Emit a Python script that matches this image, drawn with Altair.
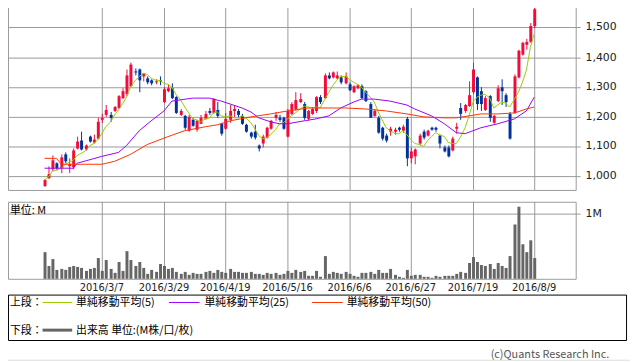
import altair as alt
import pandas as pd

# ---------------- data ----------------
opens = [968, 994, 1025, 1043, 1027, 1073, 1035, 1030, 1094, 1120,
         1090, 1132, 1112, 1128, 1189, 1207, 1205, 1218, 1228, 1263,
         1275, 1303, 1352, 1358, 1337, 1329, 1322, 1315, 1322, 1250,
         1287, 1296, 1266, 1207, 1203, 1153, 1191, 1156, 1178, 1193,
         1220, 1213, 1224, 1176, 1160, 1189, 1218, 1220, 1203, 1173,
         1148, 1150, 1103, 1109, 1131, 1159, 1196, 1195, 1196, 1133,
         1209, 1226, 1248, 1244, 1192, 1209, 1218, 1267, 1264, 1340,
         1333, 1330, 1333, 1311, 1309, 1284, 1296, 1303, 1287, 1243,
         1203, 1198, 1164, 1137, 1150, 1150, 1163, 1153, 1192, 1059,
         1067, 1111, 1150, 1137, 1162, 1162, 1137, 1098, 1098, 1087,
         1160, 1228, 1218, 1237, 1281, 1333, 1287, 1222, 1270, 1181,
         1253, 1300, 1273, 1211, 1214, 1331, 1409, 1442, 1451, 1503]
highs = [990, 1035, 1072, 1048, 1075, 1080, 1062, 1093, 1133, 1150,
         1108, 1137, 1140, 1195, 1210, 1240, 1217, 1236, 1272, 1295,
         1360, 1382, 1362, 1362, 1347, 1335, 1326, 1325, 1335, 1298,
         1310, 1312, 1270, 1226, 1206, 1205, 1195, 1190, 1205, 1220,
         1228, 1262, 1248, 1180, 1212, 1240, 1235, 1225, 1210, 1178,
         1150, 1172, 1108, 1140, 1165, 1190, 1215, 1205, 1200, 1225,
         1250, 1282, 1280, 1250, 1222, 1232, 1270, 1272, 1345, 1350,
         1352, 1352, 1338, 1350, 1315, 1305, 1310, 1308, 1290, 1248,
         1225, 1202, 1168, 1145, 1165, 1162, 1168, 1172, 1200, 1098,
         1095, 1142, 1158, 1158, 1167, 1165, 1140, 1105, 1102, 1132,
         1180, 1245, 1243, 1320, 1383, 1335, 1300, 1270, 1272, 1205,
         1305, 1325, 1278, 1215, 1342, 1425, 1452, 1460, 1515, 1568]
lows = [965, 990, 1018, 1022, 1010, 1045, 1012, 1025, 1090, 1088,
        1086, 1112, 1110, 1125, 1180, 1200, 1183, 1215, 1225, 1258,
        1270, 1300, 1340, 1282, 1320, 1310, 1305, 1310, 1305, 1245,
        1283, 1260, 1208, 1203, 1155, 1150, 1165, 1150, 1175, 1190,
        1205, 1210, 1198, 1138, 1155, 1180, 1200, 1195, 1172, 1148,
        1128, 1125, 1085, 1098, 1128, 1155, 1187, 1183, 1155, 1130,
        1205, 1220, 1245, 1190, 1185, 1205, 1212, 1244, 1260, 1325,
        1328, 1325, 1310, 1308, 1285, 1280, 1292, 1258, 1248, 1195,
        1200, 1145, 1120, 1115, 1138, 1140, 1150, 1148, 1035, 1045,
        1042, 1105, 1125, 1133, 1152, 1150, 1094, 1080, 1063, 1083,
        1145, 1190, 1212, 1233, 1277, 1222, 1218, 1218, 1183, 1178,
        1248, 1240, 1233, 1124, 1210, 1328, 1405, 1425, 1448, 1498]
closes = [988, 1007, 1055, 1027, 1064, 1050, 1040, 1087, 1117, 1092,
          1103, 1116, 1124, 1182, 1196, 1222, 1198, 1232, 1268, 1287,
          1338, 1376, 1348, 1322, 1344, 1315, 1312, 1320, 1318, 1293,
          1296, 1264, 1212, 1220, 1164, 1200, 1170, 1187, 1196, 1209,
          1212, 1258, 1202, 1142, 1192, 1220, 1226, 1207, 1176, 1151,
          1133, 1129, 1093, 1133, 1162, 1187, 1205, 1190, 1160, 1220,
          1242, 1256, 1259, 1196, 1218, 1226, 1267, 1248, 1340, 1330,
          1348, 1340, 1314, 1337, 1289, 1303, 1306, 1262, 1253, 1198,
          1220, 1148, 1126, 1120, 1160, 1158, 1155, 1168, 1059, 1084,
          1090, 1137, 1129, 1153, 1158, 1157, 1109, 1084, 1068, 1128,
          1167, 1209, 1239, 1273, 1359, 1244, 1242, 1264, 1198, 1203,
          1296, 1287, 1248, 1126, 1337, 1420, 1448, 1451, 1503, 1562]
volumes_m = [0.414, 0.202, 0.303, 0.136, 0.152, 0.141, 0.182, 0.202, 0.177, 0.162,
             0.126, 0.152, 0.167, 0.318, 0.126, 0.288, 0.152, 0.091, 0.263, 0.126,
             0.424, 0.288, 0.192, 0.263, 0.167, 0.076, 0.136, 0.101, 0.222, 0.202,
             0.152, 0.162, 0.101, 0.076, 0.101, 0.066, 0.086, 0.076, 0.071, 0.101,
             0.126, 0.091, 0.141, 0.101, 0.091, 0.152, 0.111, 0.101, 0.091, 0.086,
             0.101, 0.076, 0.076, 0.066, 0.086, 0.076, 0.091, 0.066, 0.081, 0.121,
             0.091, 0.136, 0.101, 0.126, 0.040, 0.040, 0.116, 0.025, 0.343, 0.071,
             0.101, 0.091, 0.076, 0.101, 0.076, 0.040, 0.030, 0.086, 0.091, 0.101,
             0.076, 0.131, 0.086, 0.091, 0.146, 0.056, 0.035, 0.020, 0.131, 0.050,
             0.056, 0.061, 0.025, 0.025, 0.015, 0.040, 0.030, 0.040, 0.045, 0.045,
             0.071, 0.101, 0.091, 0.242, 0.333, 0.263, 0.212, 0.202, 0.222, 0.152,
             0.242, 0.202, 0.162, 0.343, 0.833, 1.110, 0.530, 0.414, 0.591, 0.323]

ma25_idx = [0, 7, 8, 14, 18, 20, 23, 26, 29, 31, 36, 40, 43, 45, 48, 50, 52, 55, 57, 59,
            63, 66, 69, 72, 75, 77, 80, 84, 88, 90, 94, 97, 100, 102, 106, 110, 114, 117, 119]
ma25_val = [1026, 1026, 1044, 1067, 1081, 1103, 1153, 1187, 1220, 1253, 1262, 1264, 1253,
            1243, 1231, 1217, 1198, 1184, 1178, 1178, 1187, 1192, 1203, 1231, 1248, 1259,
            1259, 1253, 1240, 1226, 1203, 1176, 1148, 1144, 1164, 1176, 1192, 1220, 1267]
ma50_idx = [0, 3, 4, 14, 17, 21, 25, 30, 34, 39, 42, 45, 50, 55, 59, 64, 69, 73, 78, 83,
            88, 92, 97, 100, 103, 106, 110, 114, 117, 119]
ma50_val = [1059, 1059, 1041, 1042, 1050, 1075, 1107, 1135, 1153, 1167, 1173, 1187, 1200,
            1211, 1220, 1229, 1231, 1229, 1226, 1220, 1210, 1200, 1198, 1196, 1203, 1209,
            1211, 1214, 1226, 1233]

price_ticks = [1000, 1100, 1200, 1300, 1400, 1500]
price_labels = ["1,000", "1,100", "1,200", "1,300", "1,400", "1,500"]
date_idx = [14, 29, 44, 59, 74, 89, 104, 119]
date_labels = ["2016/3/7", "2016/3/29", "2016/4/19", "2016/5/16",
               "2016/6/6", "2016/6/27", "2016/7/19", "2016/8/9"]
vol_ticks = [1.0]
vol_labels = ["1M"]
vol_unit = ["単位: M"]
legend_heads = ["上段：", "下段："]
legend_names = ["単純移動平均(5)", "単純移動平均(25)", "単純移動平均(50)"]
volume_name = ["出来高 単位:(M株/口/枚)"]
credit = ["(c)Quants Research Inc."]

# ---------------- styling ----------------
RED = "#F50A3C"
BLUE = "#003399"
GREEN = "#99CC00"
PURPLE = "#9900FF"
ORANGE = "#FF3300"
GRID = "#999999"
VOLC = "#666666"
JP = "Noto Sans CJK JP"
NUM = "DejaVu Sans"

X = alt.Scale(domain=[-8.83, 127.75], range=[3, 583], nice=False, zero=False, round=True)
YP = alt.Scale(domain=[954.6, 1583.8], range=[190, 0], nice=False, zero=False, round=True)
YV = alt.Scale(domain=[0, 1.182], range=[280, 202], nice=False, zero=False, round=True)

n = len(closes)
df = pd.DataFrame({
    "i": list(range(n)), "open": opens, "high": highs, "low": lows,
    "close": closes, "vol": volumes_m,
    "dir": ["up" if c >= o else "down" for o, c in zip(opens, closes)],
})
df25 = pd.DataFrame({"i": ma25_idx, "v": ma25_val})
df50 = pd.DataFrame({"i": ma50_idx, "v": ma50_val})
dfp = pd.DataFrame({"v": price_ticks, "label": price_labels})
dfd = pd.DataFrame({"i": date_idx, "label": date_labels})
dfv = pd.DataFrame({"v": vol_ticks, "label": vol_labels})

xenc = alt.X("i:Q", scale=X, axis=None)
cenc = alt.Color("dir:N", scale=alt.Scale(domain=["up", "down"], range=[RED, BLUE]), legend=None)
one = pd.DataFrame({"a": [0]})


def hline(x1, x2, y, color, width=1):
    return alt.Chart(one).mark_rule(color=color, strokeWidth=width).encode(
        x=alt.value(x1), x2=alt.value(x2), y=alt.value(y))


def box(x1, x2, y1, y2, color):
    return alt.Chart(one).mark_rect(fillOpacity=0, stroke=color, strokeWidth=1).encode(
        x=alt.value(x1), x2=alt.value(x2), y=alt.value(y1), y2=alt.value(y2))


def label(txt, x, y, size=11, font=JP, color="#000000", align="left"):
    return alt.Chart(pd.DataFrame({"t": [txt]})).mark_text(
        align=align, baseline="middle", fontSize=size, font=font, color=color
    ).encode(x=alt.value(x), y=alt.value(y), text="t:N")


layers = []
# grid lines
layers.append(alt.Chart(dfp).mark_rule(color=GRID, strokeWidth=1, yOffset=0.5).encode(
    y=alt.Y("v:Q", scale=YP, axis=None), x=alt.value(3), x2=alt.value(588)))
layers.append(alt.Chart(dfd).mark_rule(color=GRID, strokeWidth=1, xOffset=0.5).encode(
    x=xenc, y=alt.value(0), y2=alt.value(190)))
layers.append(alt.Chart(dfd).mark_rule(color=GRID, strokeWidth=1, xOffset=0.5).encode(
    x=xenc, y=alt.value(202), y2=alt.value(280)))
layers.append(alt.Chart(dfv).mark_rule(color=GRID, strokeWidth=1, yOffset=0.5).encode(
    y=alt.Y("v:Q", scale=YV, axis=None), x=alt.value(3), x2=alt.value(588)))
# panel frames
layers.append(box(8.5, 583.5, 0.5, 190.5, GRID))
layers.append(box(8.5, 583.5, 202.5, 280.5, GRID))

base = alt.Chart(df)
# volume
layers.append(base.mark_bar(width=3, color=VOLC, xOffset=0.5).encode(
    x=xenc, y=alt.Y("vol:Q", scale=YV, axis=None)))
# candles
layers.append(base.mark_rule(strokeWidth=1, xOffset=0.5).encode(
    x=xenc, y=alt.Y("low:Q", scale=YP, axis=None), y2="high:Q", color=cenc))
layers.append(base.mark_bar(width=3, xOffset=0.5).encode(
    x=xenc, y=alt.Y("open:Q", scale=YP, axis=None), y2="close:Q", color=cenc))
# moving averages
layers.append(base.transform_window(
    ma5="mean(close)", frame=[-4, 0], sort=[alt.SortField("i")]
).mark_line(color=GREEN, strokeWidth=1).encode(
    x=xenc, y=alt.Y("ma5:Q", scale=YP, axis=None)))
layers.append(alt.Chart(df25).mark_line(color=PURPLE, strokeWidth=1).encode(
    x=xenc, y=alt.Y("v:Q", scale=YP, axis=None)))
layers.append(alt.Chart(df50).mark_line(color=ORANGE, strokeWidth=1).encode(
    x=xenc, y=alt.Y("v:Q", scale=YP, axis=None)))

# axis labels
layers.append(alt.Chart(dfp).mark_text(align="left", baseline="middle", fontSize=11, font=NUM,
                                       color="#222222").encode(
    y=alt.Y("v:Q", scale=YP, axis=None), x=alt.value(593), text="label:N"))
layers.append(alt.Chart(dfv).mark_text(align="left", baseline="middle", fontSize=11, font=NUM,
                                       color="#222222").encode(
    y=alt.Y("v:Q", scale=YV, axis=None), x=alt.value(593), text="label:N"))
layers.append(alt.Chart(dfd).mark_text(align="center", baseline="middle", fontSize=10, font=NUM,
                                       color="#222222").encode(
    x=xenc, y=alt.value(289), text="label:N"))
layers.append(label(vol_unit[0], 10, 211, size=11))

# legend box
layers.append(box(8.5, 634.5, 296.5, 342.5, "#000000"))
layers.append(label(legend_heads[0], 10, 305))
layers.append(hline(43, 73, 304, GREEN))
layers.append(label(legend_names[0], 77, 305))
layers.append(hline(171, 202, 304, PURPLE))
layers.append(label(legend_names[1], 207, 305))
layers.append(hline(316, 347, 304, ORANGE))
layers.append(label(legend_names[2], 351, 305))
layers.append(label(legend_heads[1], 10, 333))
layers.append(hline(43, 73, 332, VOLC, width=3))
layers.append(label(volume_name[0], 77, 333))
layers.append(label(credit[0], 617, 357, size=11, color="#555555", align="right"))

chart = alt.layer(*layers).resolve_scale(y="independent").properties(
    width=638, height=362,
    autosize=alt.AutoSizeParams(type="none"),
    padding={"left": -8, "top": -8, "right": 0, "bottom": 0},
).configure_view(strokeOpacity=0).configure(background="white")

chart.save("out.html", embed_options={"renderer": "svg", "actions": False})
